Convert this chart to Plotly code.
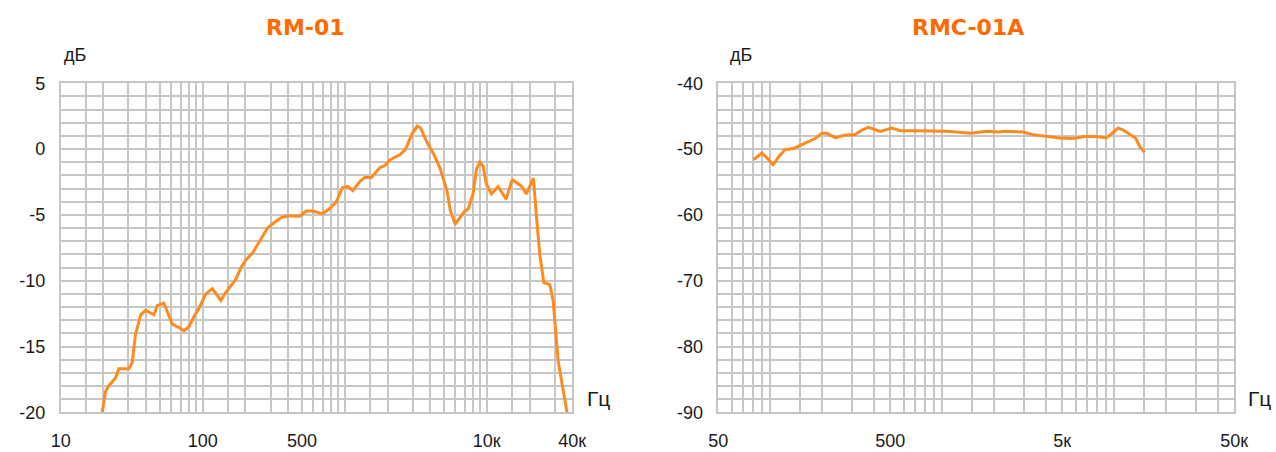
import plotly.graph_objects as go
import numpy as np

# ---------------- data ----------------
rm01_freq = [19.6, 20.7, 21.8, 24.3, 25.7, 30.2, 31.9, 33.6, 36.6, 39.6, 45.3, 47.8, 53.3,
             61, 66.3, 74, 80, 87, 94.5, 105, 117, 123, 134, 145, 171, 186, 202, 224, 250,
             286, 318, 356, 405, 480, 535, 592, 697, 777, 867, 967, 1050, 1140, 1270, 1380,
             1540, 1770, 1920, 2090, 2470, 2680, 2990, 3240, 3420, 3800, 4240, 4700, 5240,
             5540, 6000, 6500, 7000, 7400, 8000, 8470, 8930, 9420, 9930, 10800, 12000,
             13700, 14900, 15300, 17500, 19000, 20000, 21300, 22500, 23600, 25200, 27800,
             29300, 31800, 36700]
rm01_db = [-20.0, -18.4, -18.0, -17.4, -16.7, -16.7, -16.2, -14.1, -12.6, -12.25, -12.6, -11.9,
           -11.7, -13.3, -13.5, -13.8, -13.5, -12.7, -12.05, -11.0, -10.6, -10.9, -11.5, -10.9,
           -9.9, -9.0, -8.4, -7.9, -7.0, -6.0, -5.6, -5.2, -5.06, -5.1, -4.7, -4.7, -4.9, -4.55,
           -4.05, -2.9, -2.85, -3.15, -2.5, -2.15, -2.15, -1.4, -1.25, -0.8, -0.4, 0.0, 1.2,
           1.75, 1.6, 0.5, -0.4, -1.5, -3.15, -4.7, -5.7, -5.2, -4.7, -4.55, -3.4, -1.5, -1.0,
           -1.3, -2.65, -3.4, -2.85, -3.8, -2.5, -2.35, -2.8, -3.4, -2.8, -2.2, -5.45, -8.0,
           -10.15, -10.3, -11.5, -16.1, -20.0]

rmc01a_freq = [80.3, 89.6, 98, 104, 112, 122, 137, 157, 183, 200, 214, 240, 268, 312, 342,
               374, 436, 510, 570, 680, 890, 1060, 1210, 1460, 1820, 2130, 2330, 2960, 3380,
               4040, 4810, 5760, 6740, 7880, 9010, 9650, 10560, 11300, 12400, 13300, 14100,
               15050]
rmc01a_db = [-51.6, -50.6, -51.6, -52.4, -51.2, -50.1, -49.9, -49.2, -48.4, -47.6, -47.6, -48.3,
             -47.9, -47.8, -47.1, -46.7, -47.3, -46.8, -47.2, -47.2, -47.2, -47.3, -47.4, -47.6,
             -47.3, -47.4, -47.3, -47.4, -47.8, -48.1, -48.3, -48.4, -48.1, -48.1, -48.3, -47.7,
             -46.8, -47.1, -47.8, -48.3, -49.6, -50.5]

left_title = "RM-01"
right_title = "RMC-01A"
left_xticks = [10, 100, 500, 10000, 40000]
left_xticktext = ["10", "100", "500", "10к", "40к"]
right_xticks = [50, 500, 5000, 50000]
right_xticktext = ["50", "500", "5к", "50к"]
left_yticks = [-20, -15, -10, -5, 0, 5]
left_yticktext = ["-20", "-15", "-10", "-5", "0", "5"]
right_yticks = [-90, -80, -70, -60, -50, -40]
right_yticktext = ["-90", "-80", "-70", "-60", "-50", "-40"]
grid_mults = [1, 1.5, 2, 3, 4, 5, 6, 7, 8, 9]


def grid_vals(lo, hi):
    vals = []
    for dec in range(0, 6):
        for m in grid_mults:
            v = m * 10 ** dec
            if lo <= v <= hi:
                vals.append(v)
    return vals


# ---------------- style ----------------
W, H = 1276, 452
LINE = "#FF8A1E"
TITLE = "#FF6A00"
GRID = "#C6C6C6"
FONT = "Liberation Sans"
TFONT = "DejaVu Sans"
TXT = "#1a1a1a"

L_x0, L_x1 = 60.7 / W, 572.3 / W
R_x0, R_x1 = 718.3 / W, 1234.3 / W
Y0, Y1 = (H - 412.3) / H, (H - 83.3) / H

fig = go.Figure()
fig.add_trace(go.Scatter(x=rm01_freq, y=rm01_db, mode="lines",
                         line=dict(color=LINE, width=3), xaxis="x", yaxis="y",
                         showlegend=False, hoverinfo="x+y"))
fig.add_trace(go.Scatter(x=rmc01a_freq, y=rmc01a_db, mode="lines",
                         line=dict(color=LINE, width=3), xaxis="x2", yaxis="y2",
                         showlegend=False, hoverinfo="x+y"))

axis_common = dict(showline=True, mirror=True, linecolor=GRID, linewidth=1.5,
                   showgrid=True, gridcolor=GRID, gridwidth=1.5, zeroline=False,
                   tickfont=dict(family=FONT, size=18, color=TXT), ticks="",
                   automargin=False)

fig.update_layout(
    width=W, height=H, margin=dict(l=0, r=0, t=0, b=0),
    paper_bgcolor="white", plot_bgcolor="white",
    xaxis=dict(type="log", domain=[L_x0, L_x1], range=[np.log10(10), np.log10(40000)],
               tickmode="array", tickvals=left_xticks, ticktext=left_xticktext,
               minor=dict(tickmode="array", tickvals=grid_vals(10, 40000), showgrid=True,
                          gridcolor=GRID, gridwidth=1.5),
               anchor="y", ticklabelstandoff=11, **axis_common),
    yaxis=dict(domain=[Y0, Y1], range=[-20, 5], tickmode="array", tickvals=left_yticks,
               ticktext=left_yticktext,
               minor=dict(dtick=1, showgrid=True, gridcolor=GRID, gridwidth=1.5),
               anchor="x", ticklabelstandoff=10, **axis_common),
    xaxis2=dict(type="log", domain=[R_x0, R_x1], range=[np.log10(50), np.log10(50000)],
                tickmode="array", tickvals=right_xticks, ticktext=right_xticktext,
                minor=dict(tickmode="array", tickvals=grid_vals(50, 50000), showgrid=True,
                           gridcolor=GRID, gridwidth=1.5),
                anchor="y2", ticklabelstandoff=11, **axis_common),
    yaxis2=dict(domain=[Y0, Y1], range=[-90, -40], tickmode="array", tickvals=right_yticks,
                ticktext=right_yticktext,
                minor=dict(dtick=2, showgrid=True, gridcolor=GRID, gridwidth=1.5),
                anchor="x2", ticklabelstandoff=10, **axis_common),
)

ann = []
for txt, xc in ((left_title, 305), (right_title, 968)):
    ann.append(dict(text="<b>%s</b>" % txt, x=xc / W, y=(H - 27) / H, xref="paper", yref="paper",
                    xanchor="center", yanchor="middle", showarrow=False,
                    font=dict(family=TFONT, size=22, color=TITLE)))
for xl in (62, 728):
    ann.append(dict(text="дБ", x=xl / W, y=(H - 55) / H, xref="paper", yref="paper",
                    xanchor="left", yanchor="middle", showarrow=False,
                    font=dict(family=FONT, size=18, color=TXT)))
for xl in (585, 1246):
    ann.append(dict(text="Гц", x=xl / W, y=(H - 398) / H, xref="paper", yref="paper",
                    xanchor="left", yanchor="middle", showarrow=False,
                    font=dict(family=FONT, size=21, color=TXT)))
fig.update_layout(annotations=ann)

fig.write_html("out.html", config={"displayModeBar": False},
               post_script="document.body.style.margin='0px';document.body.style.overflow='hidden';")
